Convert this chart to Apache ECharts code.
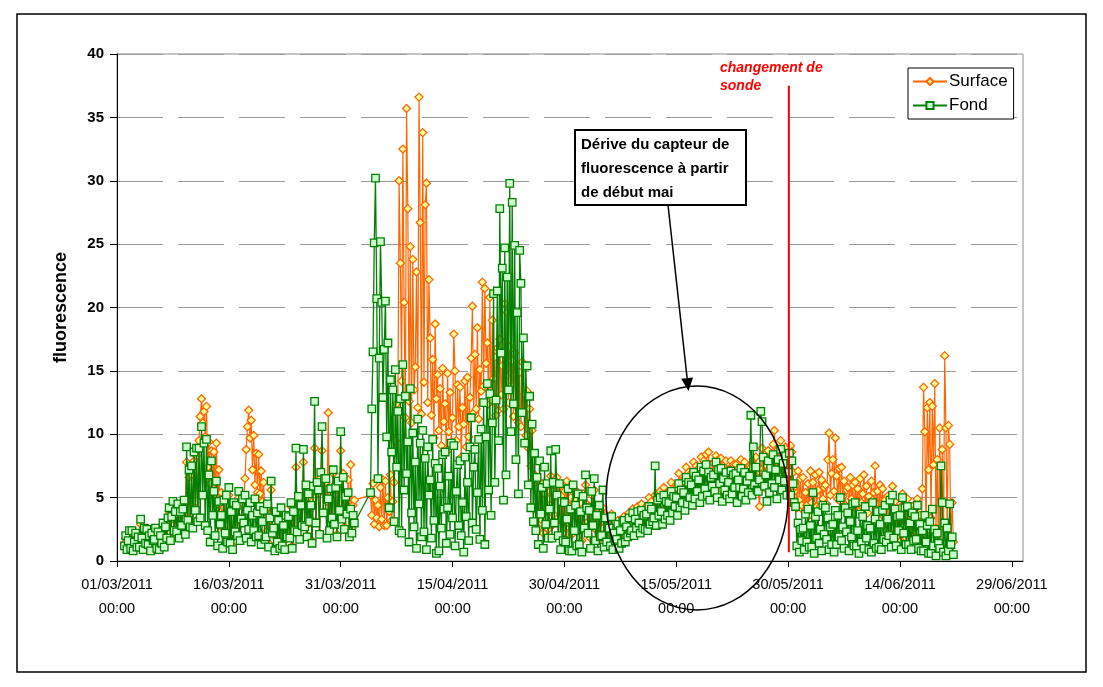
<!DOCTYPE html>
<html>
<head>
<meta charset="utf-8">
<script src="https://cdn.jsdelivr.net/npm/echarts/dist/echarts.min.js"></script>
<style>
  html, body { margin: 0; padding: 0; background: #ffffff; }
  #chart { width: 1103px; height: 687px; }
</style>
</head>
<body>
<div id="chart"></div>
<script>
// Time is counted in days from 01/03/2011 00:00; samples every 4 hours from 02/03/2011 00:00.
const FIRST_SAMPLE_DAY = 1;
const STEP_DAYS = 4 / 24;
const X_TICK_DATES = ['01/03/2011', '16/03/2011', '31/03/2011', '15/04/2011', '30/04/2011',
                      '15/05/2011', '30/05/2011', '14/06/2011', '29/06/2011'];
const X_TICK_TIME = '00:00';
const SONDE_CHANGE_DAY = 90.1;   // 30/05/2011, early morning

// Surface fluorescence, one row per day (null = no record)
const SURFACE = [
  1.4, 1.8, 1.1, 1.5, 2.1, 1.2,
  2.2, 1.0, 1.6, 2.0, 1.3, 1.7,
  1.3, 2.9, 1.7, 1.1, 2.3, 1.5,
  2.3, 1.4, 1.9, 1.0, 2.0, 1.5,
  1.6, 2.4, 1.2, 2.1, 1.1, 1.9,
  1.5, 2.8, 1.3, 2.5, 1.9, 3.1,
  3.9, 1.8, 3.3, 4.3, 2.5, 3.6,
  2.4, 4.2, 2.0, 3.7, 2.9, 3.9,
  4.4, 2.3, 7.8, 3.4, 6.6, 2.9,
  6.8, 2.8, 7.9, 4.2, 8.3, 3.3,
  9.5, 11.4, 12.8, 10.9, 11.8, 9.8,
  12.2, 7.4, 9.4, 6.1, 8.7, 5.3,
  8.6, 5.0, 9.3, 4.5, 7.2, 3.8,
  5.4, 2.6, 5.0, 2.4, 4.8, 1.9,
  5.2, 1.6, 3.8, 1.2, 4.3, 2.2,
  4.1, 2.1, 5.0, 1.8, 3.4, 4.5,
  4.8, 6.5, 8.8, 10.6, 11.9, 9.7,
  11.1, 7.2, 9.9, 6.0, 8.5, 5.4,
  8.4, 5.3, 7.1, 4.7, 6.2, 3.9,
  2.3, 4.2, 1.4, 3.2, 5.6, 2.1,
  2.4, 1.0, 3.6, 1.6, 3.0, 1.2,
  3.9, 1.3, 2.7, 1.1, 3.4, 1.8,
  3.3, 1.9, 4.3, 1.2, 3.7, 2.3,
  7.4, 2.4, 4.8, 1.9, 4.2, 2.7,
  7.8, 2.8, 5.6, 2.0, 5.0, 3.0,
  4.2, 1.6, 5.5, 8.9, 3.1, 5.8,
  5.3, 2.2, 6.6, 8.7, 3.9, 6.1,
  6.2, 4.7, 11.7, 2.5, 5.4, 3.5,
  6.9, 3.0, 5.6, 2.1, 6.0, 4.1,
  8.7, 3.4, 6.9, 2.7, 5.3, 3.8,
  6.4, 2.4, 7.6, 2.6, 4.4, 4.8,
  null, null, null, null, null, null,
  null, null, null, null, null, null,
  5.2, 3.6, 6.1, 2.9, 4.8, 3.4,
  4.4, 2.7, 5.8, 3.3, 6.4, 2.8,
  6.3, 2.8, 5.0, 3.9, 6.8, 3.2,
  4.7, 6.2, 9.5, 12.4, 11.8, 30.0,
  23.5, 14.2, 32.5, 20.4, 11.3, 35.7,
  27.8, 12.6, 24.8, 10.9, 23.8, 13.5,
  15.3, 22.8, 12.1, 36.6, 26.7, 11.6,
  33.8, 14.1, 28.1, 29.8, 12.5, 22.2,
  17.6, 11.5, 15.9, 9.7, 18.7, 12.8,
  14.7, 10.3, 13.6, 9.1, 15.2, 11.0,
  12.4, 8.6, 14.8, 10.2, 13.3, 9.4,
  11.3, 17.9, 15.0, 9.5, 13.9, 10.6,
  13.7, 8.2, 12.1, 10.8, 14.2, 9.0,
  14.5, 9.8, 12.9, 16.0, 20.1, 11.7,
  16.3, 12.0, 18.4, 11.2, 15.1, 13.4,
  22.0, 13.8, 21.5, 15.6, 17.2, 12.4,
  20.8, 12.7, 19.0, 14.4, 16.1, 11.5,
  16.8, 11.9, 17.5, 13.1, 15.4, 12.0,
  20.3, 14.6, 19.6, 12.5, 16.9, 13.8,
  15.8, 11.4, 16.4, 12.2, 14.7, 10.9,
  14.9, 10.6, 15.7, 11.8, 13.2, 9.9,
  13.4, 8.9, 12.0, 7.5, 10.3, 6.4,
  6.8, 4.1, 5.7, 2.6, 6.2, 3.3,
  6.1, 2.2, 5.3, 3.4, 5.9, 2.5,
  4.9, 6.7, 2.8, 5.5, 3.6, 6.3,
  6.6, 3.4, 5.9, 2.0, 5.2, 3.0,
  5.5, 2.6, 6.3, 4.4, 2.1, 5.0,
  2.1, 5.8, 3.6, 4.9, 2.4, 5.4,
  2.4, 4.6, 1.6, 5.3, 3.0, 6.0,
  4.5, 3.1, 4.3, 1.8, 5.2, 3.0,
  5.6, 2.5, 3.9, 1.6, 4.1, 2.2,
  2.6, 4.2, 1.9, 3.6, 1.8, 2.9,
  2.9, 1.8, 3.7, 1.5, 2.6, 2.0,
  2.3, 3.2, 1.6, 2.8, 1.9, 3.4,
  3.5, 2.1, 3.1, 2.5, 3.8, 2.7,
  3.0, 4.1, 2.6, 3.6, 3.2, 4.3,
  3.6, 2.8, 4.5, 3.2, 4.1, 3.0,
  4.3, 3.0, 5.0, 3.5, 4.7, 3.6,
  4.0, 5.2, 3.5, 5.3, 4.2, 5.5,
  4.6, 3.6, 5.8, 4.0, 5.3, 4.2,
  5.3, 3.9, 6.2, 4.5, 5.8, 4.9,
  5.8, 4.3, 6.9, 5.0, 6.3, 5.3,
  6.3, 4.8, 7.4, 5.3, 7.0, 5.8,
  6.9, 5.2, 7.8, 5.7, 7.5, 6.2,
  7.3, 5.5, 8.2, 6.0, 7.9, 6.5,
  8.4, 6.1, 8.6, 5.8, 7.6, 6.7,
  7.7, 6.3, 8.3, 5.9, 8.0, 6.9,
  8.1, 5.6, 7.5, 6.5, 7.9, 6.0,
  7.2, 5.9, 7.9, 6.2, 7.6, 6.6,
  7.6, 5.5, 7.3, 6.6, 8.0, 5.9,
  6.6, 7.8, 5.7, 7.1, 6.3, 7.5,
  7.4, 6.1, 8.0, 6.8, 8.2, 6.4,
  6.4, 4.3, 7.2, 8.9, 7.0, 6.6,
  7.6, 5.6, 8.7, 6.3, 8.1, 6.9,
  9.2, 10.3, 7.9, 5.8, 8.8, 7.2,
  9.5, 6.5, 8.5, 7.1, 9.0, 6.3,
  8.1, 6.2, 9.1, 8.6, 7.0, 5.5,
  5.9, 4.2, 7.1, 4.8, 6.5, 4.4,
  6.6, 3.9, 5.4, 4.4, 6.1, 3.6,
  7.1, 4.6, 6.2, 3.8, 6.8, 4.3,
  5.6, 7.0, 4.3, 6.4, 4.9, 5.8,
  6.0, 4.5, 8.0, 10.1, 5.2, 6.9,
  8.0, 5.5, 9.7, 6.7, 4.9, 7.3,
  4.7, 7.4, 5.1, 6.3, 4.4, 5.6,
  5.8, 4.1, 6.6, 4.9, 6.0, 3.7,
  6.2, 4.4, 5.7, 3.9, 6.5, 4.6,
  5.3, 6.8, 4.2, 5.9, 3.8, 5.1,
  4.6, 6.3, 4.8, 5.4, 7.5, 4.1,
  5.5, 3.8, 6.0, 4.2, 5.7, 3.5,
  4.8, 2.4, 5.1, 2.9, 4.5, 2.0,
  5.9, 2.6, 4.7, 1.9, 4.1, 2.8,
  4.2, 1.6, 5.3, 2.8, 4.6, 1.8,
  4.9, 2.0, 3.7, 1.5, 4.3, 2.4,
  4.1, 2.3, 4.9, 1.6, 3.6, 1.2,
  5.7, 13.7, 10.2, 2.1, 12.1, 7.2,
  12.5, 3.4, 12.2, 7.6, 14.0, 2.6,
  8.0, 0.6, 10.5, 1.2, 8.8, 0.9,
  16.2, 10.5, 2.5, 10.7, 9.2, 1.4,
  4.6, 1.5
];

// Bottom fluorescence, one row per day (null = no record)
const FOND = [
  1.2, 2.0, 0.9, 1.6, 2.4, 1.0,
  2.4, 0.8, 1.5, 2.2, 1.1, 1.9,
  1.1, 3.3, 1.8, 0.9, 2.6, 1.4,
  2.5, 1.3, 2.0, 0.8, 2.2, 1.6,
  1.7, 2.6, 1.0, 2.3, 0.9, 2.0,
  1.4, 3.0, 1.1, 2.7, 1.8, 3.4,
  4.2, 1.6, 3.5, 4.7, 2.4, 3.9,
  2.3, 4.5, 1.8, 3.9, 2.8, 4.1,
  4.8, 2.1, 9.0, 3.2, 7.2, 2.7,
  7.5, 2.6, 8.6, 4.0, 8.9, 3.1,
  8.9, 3.4, 10.6, 5.2, 9.3, 2.8,
  9.6, 2.4, 6.8, 1.5, 7.9, 3.6,
  5.5, 2.0, 6.3, 1.2, 4.7, 2.9,
  3.6, 1.0, 4.8, 2.2, 5.2, 1.5,
  5.8, 1.4, 3.9, 0.9, 4.6, 2.3,
  4.4, 2.0, 5.5, 1.6, 3.3, 4.9,
  3.0, 5.2, 1.8, 4.0, 2.5, 4.6,
  1.5, 3.6, 2.4, 4.9, 1.9, 3.8,
  2.0, 4.3, 1.3, 3.1, 4.0, 1.7,
  1.9, 4.5, 1.1, 3.4, 6.3, 2.2,
  2.6, 0.8, 3.9, 1.5, 3.2, 1.0,
  4.2, 1.2, 2.8, 0.9, 3.6, 1.9,
  3.5, 1.8, 4.6, 1.0, 3.9, 2.4,
  8.9, 2.3, 5.1, 1.7, 4.4, 2.8,
  8.8, 2.7, 6.0, 1.9, 5.3, 3.1,
  4.4, 1.4, 5.9, 12.6, 3.0, 6.2,
  5.6, 2.1, 7.0, 10.6, 3.8, 6.5,
  6.5, 1.8, 4.9, 2.4, 5.7, 3.4,
  7.2, 2.9, 5.8, 1.9, 6.3, 4.0,
  10.2, 3.3, 6.6, 2.5, 5.1, 3.7,
  5.4, 1.9, 4.1, 2.2, 3.6, 3.0,
  null, null, null, null, null, null,
  null, null, null, null, null, null,
  5.4, 12.0, 16.5, 25.1, 30.2, 20.7,
  6.5, 16.0, 25.2, 20.4, 12.9, 16.7,
  20.5, 9.8, 17.2, 4.2, 14.3, 8.6,
  13.5, 3.1, 15.1, 7.4, 11.8, 2.4,
  12.8, 2.2, 15.5, 5.6, 13.0, 6.9,
  9.4, 1.5, 13.6, 3.8, 10.1, 2.7,
  7.8, 1.0, 11.2, 4.5, 9.3, 1.9,
  10.3, 2.3, 8.1, 0.9, 9.0, 5.2,
  6.4, 1.8, 9.6, 3.2, 7.7, 0.6,
  7.3, 0.8, 5.9, 2.6, 8.4, 4.1,
  8.6, 1.4, 4.2, 6.7, 2.1, 9.3,
  3.4, 9.1, 1.2, 5.5, 7.6, 2.8,
  7.9, 2.0, 4.6, 0.7, 8.2, 3.5,
  6.2, 1.6, 9.0, 11.3, 3.0, 7.4,
  8.8, 2.5, 5.4, 9.6, 1.7, 10.4,
  4.0, 12.5, 1.3, 9.8, 14.0, 5.6,
  13.2, 3.6, 10.9, 21.1, 6.2, 12.7,
  21.3, 9.5, 27.8, 16.4, 23.1, 4.8,
  24.7, 6.8, 22.4, 13.5, 29.8, 10.2,
  28.3, 12.4, 24.9, 8.0, 19.6, 5.3,
  24.5, 21.9, 11.7, 17.6, 9.3, 15.4,
  15.4, 6.0, 13.0, 4.2, 10.8, 3.1,
  8.5, 2.4, 6.6, 1.3, 7.9, 3.7,
  5.8, 1.0, 7.4, 2.9, 6.1, 1.8,
  4.1, 8.7, 1.8, 6.2, 3.0, 8.8,
  5.2, 2.0, 6.1, 0.9, 4.7, 1.6,
  4.6, 1.5, 3.3, 5.7, 0.8, 4.1,
  0.8, 6.0, 2.4, 4.4, 1.2, 5.3,
  1.3, 3.9, 0.7, 5.1, 2.6, 6.8,
  4.2, 2.2, 4.0, 1.0, 5.5, 2.8,
  6.5, 1.6, 3.6, 0.8, 4.4, 1.9,
  2.0, 5.6, 1.1, 3.4, 1.5, 2.7,
  2.6, 1.2, 3.5, 0.9, 2.2, 1.6,
  1.7, 2.9, 1.0, 2.4, 1.4, 3.1,
  3.2, 1.5, 2.7, 1.9, 3.4, 2.2,
  2.4, 3.8, 2.0, 3.3, 2.6, 3.9,
  3.0, 2.2, 4.0, 2.6, 3.6, 2.5,
  3.7, 2.4, 4.3, 2.9, 4.1, 3.1,
  3.4, 7.5, 2.8, 4.8, 3.6, 5.0,
  3.9, 2.9, 5.2, 3.3, 4.7, 3.6,
  4.6, 3.2, 5.5, 3.8, 5.1, 4.3,
  5.0, 3.6, 6.1, 4.2, 5.6, 4.6,
  5.4, 4.0, 6.6, 4.5, 6.2, 5.0,
  6.0, 4.4, 7.0, 4.9, 6.7, 5.5,
  6.4, 4.6, 7.4, 5.1, 7.1, 5.7,
  7.6, 5.2, 7.0, 4.8, 6.6, 5.9,
  6.8, 5.5, 7.8, 5.0, 7.2, 6.1,
  7.3, 4.7, 6.5, 5.6, 7.0, 5.2,
  6.2, 4.9, 7.1, 5.3, 6.8, 5.8,
  6.9, 4.6, 6.4, 5.8, 7.3, 5.1,
  5.7, 7.0, 4.8, 6.3, 5.4, 6.7,
  11.5, 5.2, 9.0, 6.0, 7.4, 5.6,
  5.5, 6.4, 11.8, 11.0, 8.2, 5.9,
  6.8, 4.7, 7.9, 5.4, 7.3, 6.1,
  8.4, 5.8, 7.2, 4.9, 8.0, 6.4,
  8.8, 5.6, 7.7, 6.3, 8.3, 5.2,
  7.0, 8.5, 5.2, 7.9, 6.1, 4.6,
  4.3, 1.2, 3.0, 0.7, 2.5, 1.6,
  2.6, 0.9, 3.7, 1.5, 4.1, 1.1,
  2.8, 1.1, 5.4, 0.6, 3.5, 1.8,
  3.9, 1.4, 2.5, 0.8, 4.4, 2.1,
  4.2, 1.7, 3.4, 0.9, 2.7, 1.3,
  2.9, 0.7, 4.0, 1.3, 3.6, 1.9,
  5.0, 1.6, 2.7, 1.0, 4.2, 2.3,
  3.8, 0.8, 3.1, 1.9, 4.5, 1.2,
  4.6, 1.2, 2.4, 0.6, 3.7, 1.5,
  3.5, 1.0, 4.3, 1.8, 2.8, 0.9,
  2.6, 0.7, 4.6, 1.4, 3.3, 1.0,
  3.9, 1.1, 2.9, 0.9, 4.0, 1.7,
  4.4, 1.5, 3.3, 2.0, 4.8, 1.1,
  5.2, 1.8, 4.1, 1.2, 3.5, 2.4,
  3.6, 0.9, 5.0, 2.2, 4.2, 1.3,
  4.3, 1.3, 3.0, 0.9, 3.8, 1.6,
  3.5, 1.7, 4.4, 1.0, 2.9, 0.8,
  2.4, 0.8, 3.6, 1.5, 2.8, 0.6,
  3.1, 0.6, 4.1, 1.2, 2.5, 0.4,
  2.2, 1.4, 1.0, 7.5, 4.6, 0.7,
  3.0, 0.4, 2.6, 0.8, 4.5, 1.3,
  1.9, 0.5
];

const FONT = '"Liberation Sans", Arial, sans-serif';

function toPoints(values) {
  return values.map((v, i) => [FIRST_SAMPLE_DAY + i * STEP_DAYS, v == null ? '-' : v]);
}

const chart = echarts.init(document.getElementById('chart'), null, { renderer: 'canvas' });

chart.setOption({
  animation: false,
  backgroundColor: '#ffffff',
  grid: {
    left: 117, top: 54, width: 906, height: 507,
    show: true, borderColor: '#8c8c8c', borderWidth: 1, backgroundColor: 'transparent'
  },
  legend: {
    orient: 'vertical',
    left: 908, top: 68,
    itemWidth: 34, itemHeight: 9, itemGap: 7,
    padding: [5, 6, 5, 4],
    backgroundColor: '#ffffff',
    borderColor: '#000000', borderWidth: 1,
    textStyle: { fontFamily: FONT, fontSize: 17, color: '#000000', padding: [0, 0, 0, -3] },
    data: ['Surface', 'Fond']
  },
  xAxis: {
    type: 'value',
    min: 0, max: 121.5, interval: 15,
    axisLine: { show: true, onZero: false, lineStyle: { color: '#000000', width: 1 } },
    axisTick: { show: true, inside: false, length: 6, lineStyle: { color: '#000000' } },
    splitLine: { show: false },
    axisLabel: {
      margin: 12, color: '#000000', fontFamily: FONT, fontSize: 14.5, lineHeight: 24,
      showMaxLabel: false,
      formatter: function (v) {
        const i = Math.round(v / 15);
        if (Math.abs(v - i * 15) > 1e-6 || !X_TICK_DATES[i]) return '';
        return X_TICK_DATES[i] + '\n' + X_TICK_TIME;
      }
    }
  },
  yAxis: {
    type: 'value',
    min: 0, max: 40, interval: 5,
    name: 'fluorescence',
    nameLocation: 'middle',
    nameGap: 47,
    nameRotate: 90,
    nameTextStyle: { fontFamily: FONT, fontSize: 18, fontWeight: 'bold', color: '#000000' },
    axisLine: { show: true, lineStyle: { color: '#000000', width: 1 } },
    axisTick: { show: true, inside: false, length: 7, lineStyle: { color: '#000000' } },
    axisLabel: { margin: 13, color: '#000000', fontFamily: FONT, fontSize: 15, fontWeight: 'bold' },
    splitLine: { show: true, lineStyle: { color: '#9a9a9a', width: 1, type: [46, 15] } }
  },
  series: [
    {
      name: 'Surface',
      type: 'line',
      data: toPoints(SURFACE),
      connectNulls: true,
      symbol: 'diamond',
      symbolSize: 8,
      showSymbol: true,
      lineStyle: { color: '#ff6600', width: 1.2 },
      itemStyle: { color: '#ffff99', borderColor: '#ff6600', borderWidth: 1.3 },
      emphasis: { disabled: true },
      z: 2
    },
    {
      name: 'Fond',
      type: 'line',
      data: toPoints(FOND),
      connectNulls: true,
      symbol: 'rect',
      symbolSize: 7.5,
      showSymbol: true,
      lineStyle: { color: '#008000', width: 1.3 },
      itemStyle: { color: '#ccffcc', borderColor: '#008000', borderWidth: 1.3 },
      emphasis: { disabled: true },
      z: 3
    }
  ]
});

// Annotations: probe change marker, drift note, arrow and ellipse
const sondeX = chart.convertToPixel({ xAxisIndex: 0 }, SONDE_CHANGE_DAY);
const sondeTop = chart.convertToPixel({ yAxisIndex: 0 }, 37.5);
const sondeBottom = chart.convertToPixel({ yAxisIndex: 0 }, 0.7);

const tip = [688.5, 391];
const dir = [20, 186];
const len = Math.hypot(dir[0], dir[1]);
const ux = dir[0] / len, uy = dir[1] / len;
const base = [tip[0] - 13 * ux, tip[1] - 13 * uy];

chart.setOption({
  graphic: [
    {
      type: 'rect', silent: true, z: 100,
      shape: { x: 17, y: 14, width: 1069, height: 658 },
      style: { fill: 'none', stroke: '#000000', lineWidth: 1.5 }
    },
    {
      type: 'line', silent: true, z: 100,
      shape: { x1: sondeX, y1: sondeTop, x2: sondeX, y2: sondeBottom },
      style: { stroke: '#ff0000', lineWidth: 2 }
    },
    {
      type: 'text', silent: true, z: 100, left: 720, top: 59,
      style: {
        text: 'changement de\nsonde', fill: '#ff0000',
        font: 'italic bold 14px ' + FONT, lineHeight: 18
      }
    },
    {
      type: 'ellipse', silent: true, z: 100,
      shape: { cx: 697, cy: 498, rx: 91, ry: 112 },
      style: { fill: 'none', stroke: '#000000', lineWidth: 1.5 }
    },
    {
      type: 'line', silent: true, z: 100,
      shape: { x1: 668, y1: 205, x2: base[0], y2: base[1] },
      style: { stroke: '#000000', lineWidth: 1.5 }
    },
    {
      type: 'polygon', silent: true, z: 100,
      shape: { points: [tip, [base[0] + 6 * uy, base[1] - 6 * ux], [base[0] - 6 * uy, base[1] + 6 * ux]] },
      style: { fill: '#000000' }
    },
    {
      type: 'rect', silent: true, z: 100,
      shape: { x: 575, y: 130, width: 171, height: 75 },
      style: { fill: '#ffffff', stroke: '#000000', lineWidth: 2 }
    },
    {
      type: 'text', silent: true, z: 101, left: 581, top: 133,
      style: {
        text: 'Dérive du capteur de\nfluorescence à partir\nde début mai', fill: '#000000',
        font: 'bold 15px ' + FONT, lineHeight: 24
      }
    }
  ]
});
</script>
</body>
</html>
